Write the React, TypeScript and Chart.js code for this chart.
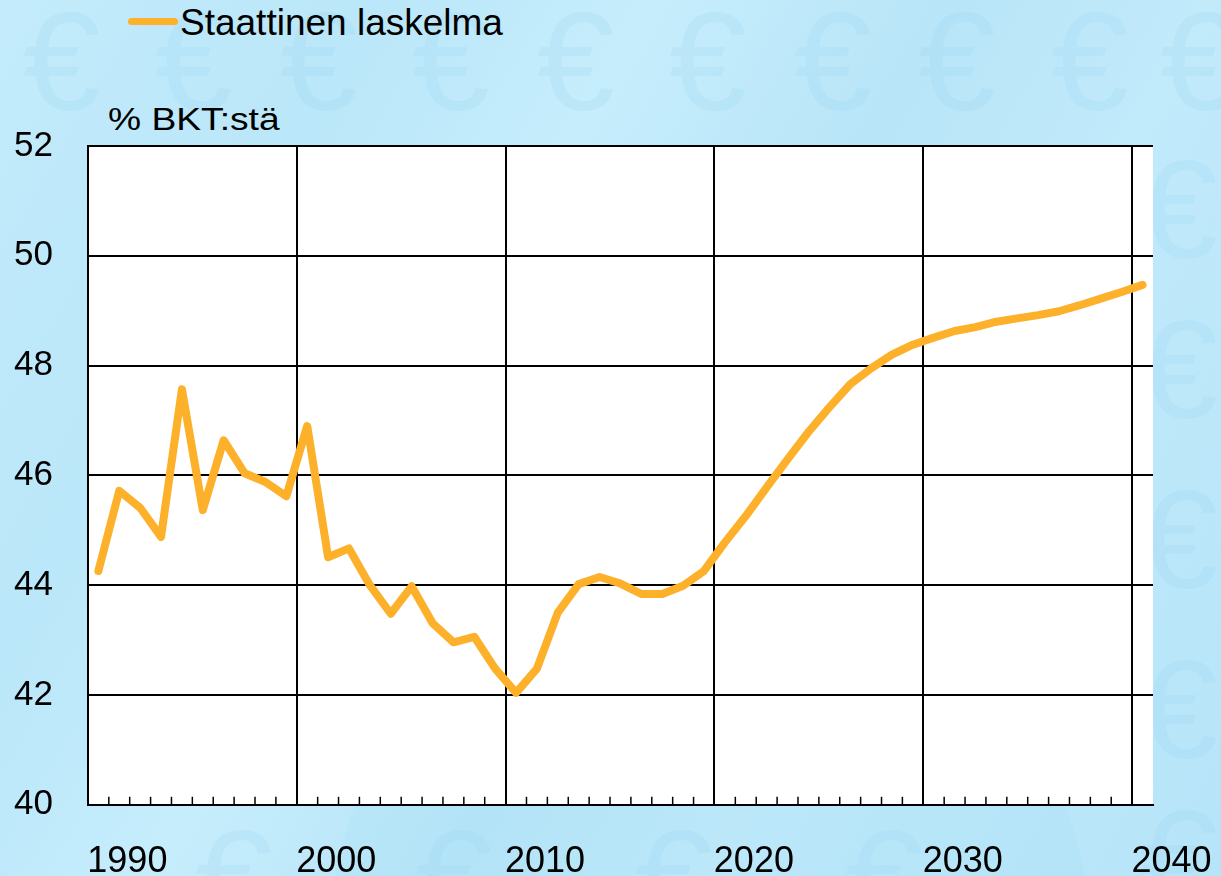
import React, { useEffect, useRef } from 'react';
import { Chart, registerables } from 'chart.js';

Chart.register(...registerables);

const years = [
  1990, 1991, 1992, 1993, 1994, 1995, 1996, 1997, 1998, 1999,
  2000, 2001, 2002, 2003, 2004, 2005, 2006, 2007, 2008, 2009,
  2010, 2011, 2012, 2013, 2014, 2015, 2016, 2017, 2018, 2019,
  2020, 2021, 2022, 2023, 2024, 2025, 2026, 2027, 2028, 2029,
  2030, 2031, 2032, 2033, 2034, 2035, 2036, 2037, 2038, 2039,
  2040,
];

const staattinenLaskelma = [
  44.26, 45.72, 45.41, 44.88, 47.57, 45.37, 46.64, 46.04, 45.88, 45.62,
  46.9, 44.51, 44.67, 44.0, 43.48, 43.98, 43.31, 42.96, 43.06, 42.48,
  42.04, 42.48, 43.5, 44.02, 44.15, 44.03, 43.84, 43.84, 43.99, 44.26,
  44.78, 45.26, 45.78, 46.29, 46.79, 47.24, 47.66, 47.95, 48.2, 48.38,
  48.51, 48.63, 48.7, 48.8, 48.86, 48.92, 48.99, 49.1, 49.22, 49.34,
  49.47,
];

const xTickLabels = ['1990', '2000', '2010', '2020', '2030', '2040'];
const yTickValues = [40, 42, 44, 46, 48, 50, 52];
const seriesLabel = 'Staattinen laskelma';
const unitLabel = '% BKT:stä';

const FONT = "'Liberation Sans', Arial, Helvetica, sans-serif";
const LINE_COLOR = '#FDB02A';

// canvas is slightly larger than the page so that the plot lands where the reference has it
const CANVAS_SHIFT_X = 40;
const CANVAS_W = 1221 + CANVAS_SHIFT_X;
const CANVAS_H = 940;

const plotBackground = {
  id: 'plotBackground',
  beforeDraw(chart: any) {
    const { ctx, chartArea } = chart;
    ctx.save();
    ctx.fillStyle = '#ffffff';
    ctx.fillRect(chartArea.left, chartArea.top, chartArea.right - chartArea.left, chartArea.bottom - chartArea.top);
    ctx.restore();
  },
};

const minorTicks = {
  id: 'minorTicks',
  afterDraw(chart: any) {
    const { ctx, chartArea } = chart;
    const xs = chart.scales.x;
    ctx.save();
    ctx.strokeStyle = '#000';
    ctx.lineWidth = 1.5;
    for (let i = 1; i < years.length; i++) {
      if (i % 10 === 0) continue;
      const px = (xs.getPixelForValue(i - 1) + xs.getPixelForValue(i)) / 2;
      ctx.beginPath();
      ctx.moveTo(px, chartArea.bottom);
      ctx.lineTo(px, chartArea.bottom - 8);
      ctx.stroke();
    }
    ctx.restore();
  },
};

function EuroBackground() {
  const spots: Array<[number, number]> = [
    [78, 62], [210, 62], [335, 62], [467, 62], [592, 62], [724, 62], [849, 62], [973, 62], [1106, 62], [1215, 62],
    [1195, 210], [1195, 370], [1195, 540], [1195, 710], [1195, 860],
    [250, 880], [470, 880], [690, 880], [900, 880],
  ];
  return (
    <div
      aria-hidden="true"
      style={{
        position: 'absolute',
        inset: 0,
        overflow: 'hidden',
        background:
          'linear-gradient(120deg, #c3ebfb 0%, #bae7f9 22%, #c6edfc 38%, #b8e5f8 55%, #c1eafb 70%, #b6e4f8 100%)',
      }}
    >
      <div
        style={{
          position: 'absolute',
          left: 330,
          top: 560,
          width: 760,
          height: 760,
          borderRadius: '50%',
          background: 'rgba(160,220,244,0.18)',
        }}
      />
      {spots.map(([x, y], i) => (
        <span
          key={i}
          style={{
            position: 'absolute',
            left: x - 55,
            top: y - 75,
            fontFamily: FONT,
            fontSize: 140,
            lineHeight: '150px',
            color: 'rgba(150,212,240,0.2)',
            userSelect: 'none',
          }}
        >
          €
        </span>
      ))}
    </div>
  );
}

export default function App() {
  const canvasRef = useRef<HTMLCanvasElement | null>(null);

  useEffect(() => {
    document.body.style.margin = '0';
    const canvas = canvasRef.current;
    if (!canvas) return;
    const chart = new Chart(canvas, {
      type: 'line',
      data: {
        labels: years.map(String),
        datasets: [
          {
            label: seriesLabel,
            data: staattinenLaskelma,
            borderColor: LINE_COLOR,
            backgroundColor: LINE_COLOR,
            borderWidth: 8,
            borderCapStyle: 'round',
            borderJoinStyle: 'round',
            pointRadius: 0,
            pointHoverRadius: 0,
            tension: 0,
            fill: false,
          },
        ],
      },
      options: {
        responsive: false,
        animation: false,
        events: [],
        layout: { padding: { left: 19, right: 68, top: 146, bottom: 20 } },
        plugins: {
          legend: { display: false },
          title: { display: false },
          tooltip: { enabled: false },
        },
        scales: {
          x: {
            type: 'category',
            offset: true,
            grid: {
              offset: true,
              drawTicks: false,
              lineWidth: 2,
              color: (ctx: any) =>
                ctx.index % 10 === 0 || ctx.index === years.length ? '#000' : 'rgba(0,0,0,0)',
            },
            border: { color: '#000', width: 2 },
            ticks: {
              autoSkip: false,
              maxRotation: 0,
              minRotation: 0,
              padding: 36,
              labelOffset: 29,
              color: '#000',
              font: { family: FONT, size: 36 },
              callback: (_v: any, idx: number) => {
                const s = String(years[idx]);
                return xTickLabels.includes(s) ? s : '';
              },
            },
          },
          y: {
            type: 'linear',
            min: yTickValues[0],
            max: yTickValues[yTickValues.length - 1],
            grid: { color: '#000', lineWidth: 2, drawTicks: false },
            border: { color: '#000', width: 2 },
            ticks: {
              stepSize: 2,
              padding: 35,
              color: '#000',
              font: { family: FONT, size: 35 },
              callback: (v: any) => (yTickValues.includes(Number(v)) ? String(v) : ''),
            },
          },
        },
      },
      plugins: [plotBackground, minorTicks],
    });
    return () => chart.destroy();
  }, []);

  return (
    <div style={{ position: 'relative', width: 1221, height: 876, overflow: 'hidden' }}>
      <EuroBackground />
      <div
        style={{
          position: 'absolute',
          left: 128,
          top: 18,
          width: 50,
          height: 7,
          borderRadius: 4,
          background: LINE_COLOR,
        }}
      />
      <div
        style={{
          position: 'absolute',
          left: 180,
          top: 4,
          fontFamily: FONT,
          fontSize: 37,
          lineHeight: '37px',
          color: '#000',
          whiteSpace: 'nowrap',
        }}
      >
        {seriesLabel}
      </div>
      <div
        style={{
          position: 'absolute',
          left: 108,
          top: 104,
          fontFamily: FONT,
          fontSize: 31,
          lineHeight: '31px',
          color: '#000',
          whiteSpace: 'nowrap',
          transform: 'scaleX(1.2)',
          transformOrigin: 'left top',
        }}
      >
        {unitLabel}
      </div>
      <canvas
        ref={canvasRef}
        width={CANVAS_W}
        height={CANVAS_H}
        style={{ position: 'absolute', left: -CANVAS_SHIFT_X, top: 0, width: CANVAS_W, height: CANVAS_H }}
      />
    </div>
  );
}
